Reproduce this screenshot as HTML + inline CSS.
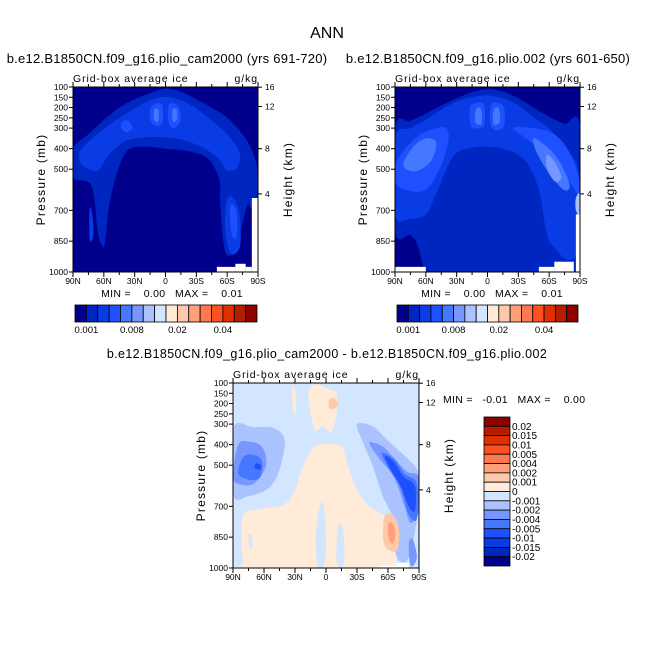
<!DOCTYPE html>
<html><head><meta charset="utf-8">
<style>
body{margin:0;background:#fff;}
svg{display:block;font-family:"Liberation Sans",sans-serif;}
svg text{white-space:pre;}
</style></head>
<body>
<svg id="chart" width="654" height="654" viewBox="0 0 654 654" xmlns="http://www.w3.org/2000/svg">
<text x="327" y="38" font-size="16" text-anchor="middle">ANN</text>
</svg>
<script>
// ---- data ----
const pressureTicks = [100,150,200,250,300,400,500,700,850,1000];
const latTicks = [90,60,30,0,-30,-60,-90];
const latTickLabels = ["90N","60N","30N","0","30S","60S","90S"];
const heightTicks = [16,12,8,4];
const heightTickPressure = [101,195,400,620];
const absColors = ["#00008c","#0026c2","#0a3ce6","#1e50ff","#4678ff","#7896ff","#aac3ff","#d2e6ff","#ffebd7","#ffc8aa","#ffa07a","#ff7850","#ff5020","#e03000","#b41e00","#8c0000"];
const absLabels = ["0.001","0.008","0.02","0.04"];
const diffColors = ["#8c0000","#b41e00","#e03000","#ff5020","#ff7850","#ffa07a","#ffc8aa","#ffebd7","#d2e6ff","#aac3ff","#7896ff","#4678ff","#1e50ff","#0a3ce6","#0026c2","#00008c"];
const diffLabels = ["0.02","0.015","0.01","0.005","0.004","0.002","0.001","0","-0.001","-0.002","-0.004","-0.005","-0.01","-0.015","-0.02"];
// contour regions: [colorIndex, [lat,p,...]]
const panelA = [
 [1,[90,400,75,330,60,260,45,200,30,160,15,130,0,108,-15,122,-30,160,-45,200,-60,250,-75,330,-85,420,-90,520,-90,640,-84,690,-80,670,-75,760,-70,860,-63,920,-57,880,-53,650,-53,560,-45,470,-35,430,-20,410,0,400,20,390,35,400,42,450,48,530,55,680,59,860,62,870,66,800,72,580,90,540]],
 [2,[84,420,70,345,55,285,40,235,25,190,12,160,0,148,-15,165,-30,205,-45,265,-60,330,-72,420,-70,490,-60,505,-52,450,-40,405,-20,362,0,345,20,345,40,365,55,430,66,505,80,485]],
 [2,[-60,650,-66,640,-72,720,-73,860,-68,910,-62,900,-58,780]],
 [2,[74,700,72,700,70,800,72,850,74,830]],
 [3,[-3,190,-8,180,-14,210,-14,270,-8,300,-3,270]],
 [3,[3,190,9,180,15,210,14,270,8,290,3,270]],
 [3,[42,270,36,265,32,300,38,320,43,300]],
 [3,[-63,680,-68,690,-70,780,-68,840,-64,800]],
 [4,[-7,210,-11,210,-11,260,-7,265]],
 [4,[7,210,11,210,11,260,7,265]]
];
const panelB = [
 [1,[90,300,75,265,60,230,45,190,30,155,15,125,0,110,-15,122,-30,155,-45,200,-60,245,-75,280,-90,300,-90,1000,47,1000,60,1000,68,870,75,820,90,800]],
 [2,[90,350,75,300,60,260,45,210,30,170,15,150,0,140,-15,155,-30,190,-45,250,-60,300,-75,400,-88,500,-90,800,-86,920,-78,940,-72,920,-65,880,-58,820,-50,600,-40,480,-30,430,-15,400,0,390,15,395,30,420,40,500,50,620,60,720,75,740,90,720]],
 [3,[90,480,80,400,65,330,50,300,40,300,38,360,45,480,60,600,80,600,90,560]],
 [3,[-25,300,-40,360,-55,420,-70,500,-85,600,-90,650,-90,560,-80,420,-65,330,-45,300]],
 [3,[-3,190,-8,175,-16,200,-16,290,-8,310,-3,280]],
 [3,[3,190,9,175,17,200,16,290,8,300,3,280]],
 [4,[82,480,72,390,60,350,50,370,55,460,70,510]],
 [4,[-45,350,-60,400,-72,480,-80,580,-74,600,-60,520,-48,420]],
 [4,[-6,210,-11,205,-12,270,-6,280]],
 [4,[6,210,11,205,12,270,6,280]],
 [5,[-58,430,-66,470,-72,540,-66,560,-58,500]],
 [6,[-86,640,-90,620,-90,720,-86,700]]
];
const panelC = [
 [7,[-2,130,5,110,12,110,17,150,15,250,10,330,3,310,-5,340,-10,260,-10,150]],
 [7,[30,130,33,120,32,230,30,250,29,200]],
 [6,[-3,180,-8,175,-12,200,-8,225,-3,220]],
 [7,[10,405,0,398,-15,405,-20,480,-25,560,-32,640,-42,700,-55,740,-65,780,-70,860,-68,960,-55,1000,70,1000,80,960,82,800,78,730,60,710,40,690,30,620,25,540,18,460]],
 [8,[6,700,2,700,0,900,3,1000,8,1000,10,850]],
 [8,[-12,800,-16,800,-18,950,-14,1000,-10,950]],
 [8,[75,840,72,840,71,900,74,900]],
 [9,[90,320,70,315,50,320,40,380,45,520,55,610,75,650,90,640]],
 [9,[-30,300,-45,310,-60,380,-75,450,-88,520,-90,600,-88,760,-80,950,-70,960,-65,860,-65,760,-55,650,-45,500,-35,380]],
 [10,[85,400,75,385,62,410,58,500,70,590,85,590,90,550]],
 [10,[-42,390,-55,410,-65,460,-78,530,-90,560,-90,720,-82,780,-76,700,-66,560,-52,470]],
 [11,[80,460,70,450,62,480,64,560,75,570,85,540]],
 [11,[-54,440,-66,470,-76,540,-88,590,-88,760,-80,740,-72,610,-60,510]],
 [12,[68,490,63,500,64,520,69,515]],
 [12,[-57,455,-66,485,-75,555,-86,600,-86,720,-80,700,-72,600,-62,515]],
 [10,[-80,880,-84,860,-88,950,-82,990]],
 [6,[-56,760,-62,735,-70,790,-70,900,-64,920,-56,880]],
 [5,[-60,790,-64,780,-67,830,-65,880,-61,860]]
];
const svg=document.getElementById('chart');
const NS='http://www.w3.org/2000/svg';
function mk(tag,attrs,parent){const e=document.createElementNS(NS,tag);for(const k in attrs)e.setAttribute(k,attrs[k]);(parent||svg).appendChild(e);return e;}
function smoothPath(pts){
 const n=pts.length;let d=`M${pts[0][0].toFixed(1)},${pts[0][1].toFixed(1)}`;
 for(let i=0;i<n;i++){const p0=pts[(i-1+n)%n],p1=pts[i],p2=pts[(i+1)%n],p3=pts[(i+2)%n];
  const c1=[p1[0]+(p2[0]-p0[0])/6,p1[1]+(p2[1]-p0[1])/6],c2=[p2[0]-(p3[0]-p1[0])/6,p2[1]-(p3[1]-p1[1])/6];
  d+=`C${c1[0].toFixed(1)},${c1[1].toFixed(1)} ${c2[0].toFixed(1)},${c2[1].toFixed(1)} ${p2[0].toFixed(1)},${p2[1].toFixed(1)}`;}
 return d+'Z';}
function panel(name,x0,y0,w,h,bg,colors,regions,whiteBlocks){
 const xs=lat=>x0+(90-lat)/180*w, ys=p=>y0+(p-100)/900*h;
 const g=mk('g',{});
 
 
 const cid='clip-'+name;
 const cp=mk('clipPath',{id:cid},g);mk('rect',{x:x0,y:y0,width:w,height:h},cp);
 const bgr=mk('rect',{x:x0,y:y0,width:w,height:h,fill:bg},g);
 
 
 const cg=mk('g',{'clip-path':`url(#${cid})`},g);
 regions.forEach((r,i)=>{const a=r[1],pts=[];for(let k=0;k<a.length;k+=2)pts.push([xs(a[k]),ys(a[k+1])]);
  const pa=mk('path',{d:smoothPath(pts),fill:colors[r[0]]},cg);
  
  });
 (whiteBlocks||[]).forEach(b=>{const r=mk('rect',{x:xs(b[0]),y:ys(b[2]),width:xs(b[1])-xs(b[0]),height:ys(b[3])-ys(b[2]),fill:'#fff'},cg);
  
  });
 mk('rect',{x:x0,y:y0,width:w,height:h,fill:'none',stroke:'#000','stroke-width':1},g);
 pressureTicks.forEach(p=>{const y=ys(p);mk('line',{x1:x0-4,x2:x0,y1:y,y2:y,stroke:'#000'},g);
  const t=mk('text',{x:x0-5,y:y+3,'font-size':8.5,'text-anchor':'end'},g);t.textContent=p;
  
  });
 for(let lat=90;lat>=-90;lat-=15){const x=xs(lat),L=lat%30===0?5:3;
  mk('line',{x1:x,x2:x,y1:y0+h,y2:y0+h+L,stroke:'#000'},g);mk('line',{x1:x,x2:x,y1:y0,y2:y0-L,stroke:'#000'},g);}
 latTicks.forEach((lat,i)=>{const t=mk('text',{x:xs(lat),y:y0+h+12,'font-size':8.5,'text-anchor':'middle'},g);t.textContent=latTickLabels[i];
  
  });
 heightTicks.forEach((hk,i)=>{const y=ys(heightTickPressure[i]);mk('line',{x1:x0+w,x2:x0+w+4,y1:y,y2:y,stroke:'#000'},g);
  const t=mk('text',{x:x0+w+7,y:y+3,'font-size':8.5},g);t.textContent=hk;
  
  });
 const yl=mk('text',{x:0,y:0,'font-size':12,'letter-spacing':1.2,'text-anchor':'middle',transform:`translate(${x0-28},${y0+h/2}) rotate(-90)`},g);yl.textContent='Pressure (mb)';
 
 
 const yr=mk('text',{x:0,y:0,'font-size':12,'letter-spacing':1.2,'text-anchor':'middle',transform:`translate(${x0+w+34},${y0+h/2}) rotate(-90)`},g);yr.textContent='Height (km)';
 
 
 const s1=mk('text',{x:x0,y:y0-5,'font-size':10.5,'letter-spacing':0.9},g);s1.textContent='Grid-box average ice';
 
 
 const s2=mk('text',{x:x0+w,y:y0-5,'font-size':10.5,'letter-spacing':0.9,'text-anchor':'end'},g);s2.textContent='g/kg';
 
 
}
function hbar(name,x0,y0,w,h){
 const g=mk('g',{});
 
 
 const bw=w/absColors.length;
 absColors.forEach((c,i)=>{const r=mk('rect',{x:x0+i*bw,y:y0,width:bw,height:h,fill:c,stroke:'#000','stroke-width':0.8},g);
  
  });
 absLabels.forEach((l,i)=>{const t=mk('text',{x:x0+(1+i*4)*bw,y:y0+h+11,'font-size':9.5,'text-anchor':'middle'},g);t.textContent=l;
  
  });
}
function txt(name,x,y,s,size,anchor,ls){const t=mk('text',{x:x,y:y,'font-size':size,'text-anchor':anchor||'start','letter-spacing':ls||0});t.textContent=s;
 
 }

txt('left-panel-title',167,63,'b.e12.B1850CN.f09_g16.plio_cam2000 (yrs 691-720)',13,'middle',0.25);
txt('right-panel-title',488,63,'b.e12.B1850CN.f09_g16.plio.002 (yrs 601-650)',13,'middle',0.25);
panel('left-panel',73,87,185,185,absColors[0],absColors,panelA,[[-50,-68,975,1000],[-68,-78,960,1000],[-78,-84,975,1000],[-84,-90,640,1000]]);
panel('right-panel',395,87,185,185,absColors[0],absColors,panelB,[[90,60,975,1000],[-50,-65,975,1000],[-65,-84,950,1000],[-86,-90,720,1000]]);
txt('left-minmax',172,297,'MIN =    0.00   MAX =    0.01',10.5,'middle',0.3);
txt('right-minmax',492,297,'MIN =    0.00   MAX =    0.01',10.5,'middle',0.3);
hbar('left-colorbar',75,305,182,17);
hbar('right-colorbar',397,305,181,17);
txt('diff-panel-title',327,358,'b.e12.B1850CN.f09_g16.plio_cam2000 - b.e12.B1850CN.f09_g16.plio.002',12.5,'middle',0.38);
panel('diff-panel',233,383,186,185,diffColors[8],diffColors,panelC,[[90,75,995,1000],[-50,-70,990,1000],[-68,-80,975,1000]]);
txt('diff-minmax',443,403,'MIN =   -0.01   MAX =    0.00',10.5,'start',0.3);
(function(){
 const g=mk('g',{});
 
 
 const x0=484,y0=417,w=26,h=149,bh=h/diffColors.length;
 diffColors.forEach((c,i)=>{const r=mk('rect',{x:x0,y:y0+i*bh,width:w,height:bh,fill:c,stroke:'#000','stroke-width':0.8},g);
  
  });
 diffLabels.forEach((l,i)=>{const t=mk('text',{x:x0+w+2,y:y0+(i+1)*bh+3.5,'font-size':10},g);t.textContent=l;
  
  });
})();
</script>
</body></html>
